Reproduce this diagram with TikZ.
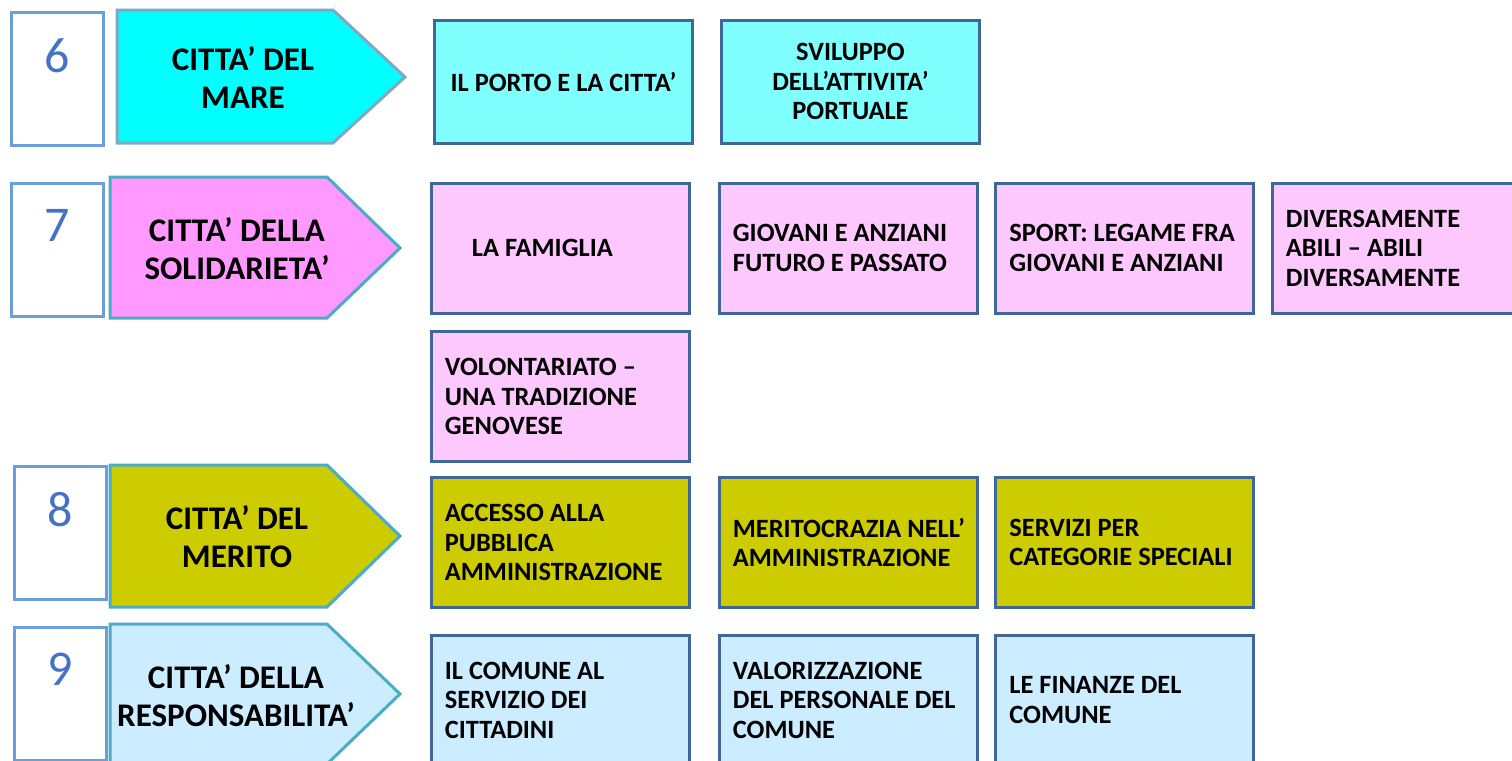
\documentclass[tikz,border=0pt]{standalone}
\usepackage{fontspec}
\setmainfont{Carlito}
\definecolor{boxline}{HTML}{3F6797}
\definecolor{arrline}{HTML}{4BACC6}
\definecolor{arrlinesix}{HTML}{7FA9C0}
\definecolor{numline}{HTML}{6A9FDC}
\definecolor{digitcol}{HTML}{4472C4}
\definecolor{cyanarr}{HTML}{00FFFF}
\definecolor{cyanbox}{HTML}{80FFFF}
\definecolor{pinkarr}{HTML}{FF99FF}
\definecolor{pinkbox}{HTML}{FDC8FD}
\definecolor{olive}{HTML}{CCCC00}
\definecolor{lblue}{HTML}{CCECFF}
\begin{document}
\begin{tikzpicture}[x=0.5pt,y=-0.5pt,
  box/.style={draw=boxline, line width=1.5pt, rectangle, minimum width=129pt,
    minimum height=65pt, inner sep=0pt},
  btext/.style={anchor=west, align=left, inner sep=0pt,
    font=\fontsize{13.2}{14.75}\selectfont\bfseries},
  ctext/.style={btext, anchor=center, align=center},
  numbox/.style={draw=numline, line width=1.5pt, fill=white, rectangle,
    minimum width=46pt, minimum height=66.5pt, inner sep=0pt},
  digit/.style={text=digitcol, font=\fontsize{25}{30}\selectfont, inner sep=0pt},
  arrow/.style={draw=arrline, line width=1.5pt, line join=miter},
  arrtext/.style={align=center, font=\fontsize{16.5}{19}\selectfont\bfseries, inner sep=0pt}
]
\useasboundingbox (0,0) rectangle (1512,761);
\clip (0,0) rectangle (1512,761);

% ---- row 6
\node[numbox] (n6) at (57,78.5) {};
\node[digit] (d6) at (57,56) {6};
\draw[arrow, draw=arrlinesix, fill=cyanarr] (117,10) -- (333,10) -- (405,77) -- (333,143) -- (117,143) -- cycle;
\node[arrtext] (a6) at (243,77) {CITTA’ DEL\\MARE};
\node[box, fill=cyanbox, minimum height=61.5pt] (b61) at (563.5,81.5) {};
\node[ctext] (t61) at (b61.center) {IL PORTO E LA CITTA’};
\node[box, fill=cyanbox, minimum height=61.5pt] (b62) at (850.5,81.5) {};
\node[ctext] (t62) at (b62.center) {SVILUPPO\\DELL’ATTIVITA’\\PORTUALE};

% ---- row 7
\node[numbox] (n7) at (57,249.5) {};
\node[digit] (d7) at (57,225) {7};
\draw[arrow, fill=pinkarr] (110,177) -- (327,177) -- (400,248) -- (327,318) -- (110,318) -- cycle;
\node[arrtext] (a7) at (237,249) {CITTA’ DELLA\\SOLIDARIETA’};
\node[box, fill=pinkbox] (b71) at (560,248) {};
\node[btext] (t71) at ([xshift=21pt]b71.west) {LA FAMIGLIA};
\node[box, fill=pinkbox] (b72) at (848,248) {};
\node[btext] (t72) at ([xshift=7.5pt]b72.west) {GIOVANI E ANZIANI\\FUTURO E PASSATO};
\node[box, fill=pinkbox] (b73) at (1124.5,248) {};
\node[btext] (t73) at ([xshift=7.5pt]b73.west) {SPORT: LEGAME FRA\\GIOVANI E ANZIANI};
\node[box, fill=pinkbox] (b74) at (1401,248) {};
\node[btext] (t74) at ([xshift=7.5pt]b74.west) {DIVERSAMENTE\\ABILI – ABILI\\DIVERSAMENTE};
\node[box, fill=pinkbox] (b75) at (560,396.5) {};
\node[btext] (t75) at ([xshift=7.5pt]b75.west) {VOLONTARIATO –\\UNA TRADIZIONE\\GENOVESE};

% ---- row 8
\node[numbox] (n8) at (60.5,532.5) {};
\node[digit] (d8) at (60,510) {8};
\draw[arrow, fill=olive] (110,465) -- (327,465) -- (400,536) -- (327,607) -- (110,607) -- cycle;
\node[arrtext] (a8) at (237,537) {CITTA’ DEL\\MERITO};
\node[box, fill=olive] (b81) at (560,542.5) {};
\node[btext] (t81) at ([xshift=7.5pt]b81.west) {ACCESSO ALLA\\PUBBLICA\\AMMINISTRAZIONE};
\node[box, fill=olive] (b82) at (848,542.5) {};
\node[btext] (t82) at ([xshift=7.5pt]b82.west) {MERITOCRAZIA NELL’\\AMMINISTRAZIONE};
\node[box, fill=olive] (b83) at (1124.5,542.5) {};
\node[btext] (t83) at ([xshift=7.5pt]b83.west) {SERVIZI PER\\CATEGORIE SPECIALI};

% ---- row 9
\node[numbox] (n9) at (60.5,694) {};
\node[digit] (d9) at (60,669) {9};
\draw[arrow, fill=lblue] (110,624) -- (327,624) -- (400,694) -- (327,764) -- (110,764) -- cycle;
\node[arrtext] (a9) at (236,696) {CITTA’ DELLA\\RESPONSABILITA’};
\node[box, fill=lblue] (b91) at (560,700) {};
\node[btext] (t91) at ([xshift=7.5pt]b91.west) {IL COMUNE AL\\SERVIZIO DEI\\CITTADINI};
\node[box, fill=lblue] (b92) at (848,700) {};
\node[btext] (t92) at ([xshift=7.5pt]b92.west) {VALORIZZAZIONE\\DEL PERSONALE DEL\\COMUNE};
\node[box, fill=lblue] (b93) at (1124.5,700) {};
\node[btext] (t93) at ([xshift=7.5pt]b93.west) {LE FINANZE DEL\\COMUNE};
\end{tikzpicture}
\end{document}
